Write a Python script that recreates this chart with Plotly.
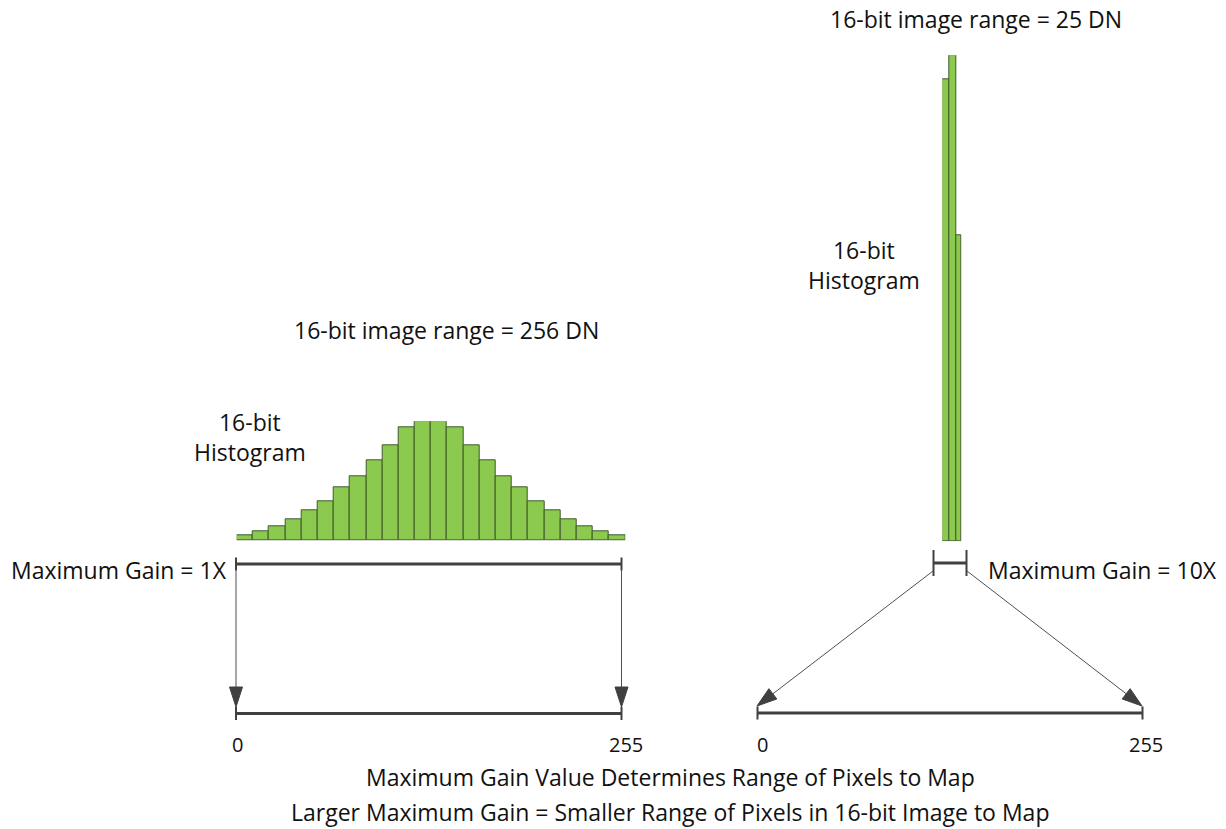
import plotly.graph_objects as go
import math

W, H = 1226, 829

# ---- data ----
left_bins = list(range(24))
left_counts = [5, 9, 14, 21, 30, 39, 53, 64, 80, 95, 113, 119,
               119, 113, 95, 80, 64, 53, 39, 30, 21, 14, 9, 5]
right_bins = [0, 1, 2]
right_counts = [462, 486, 306]
right_widths = [1, 1, 0.76]
tick_labels = ["0", "255"]

FONT = "Open Sans"
FS = 23
TXT = "#111111"
DARK = "#404040"
GREEN = "#8cc94f"
EDGE = "#3f5a2a"

fig = go.Figure()

# invisible trace to establish pixel-space canvas axes
fig.add_trace(go.Scatter(x=[0, W], y=[0, H], mode="markers",
                         marker=dict(opacity=0), hoverinfo="skip", showlegend=False))

# left histogram
fig.add_trace(go.Bar(x=left_bins, y=left_counts, width=1,
                     marker=dict(color=GREEN, line=dict(color=EDGE, width=1)),
                     xaxis="x2", yaxis="y2", showlegend=False, hoverinfo="skip"))
# right histogram
fig.add_trace(go.Bar(x=right_bins, y=right_counts, width=right_widths, offset=0,
                     marker=dict(color=GREEN, line=dict(color=EDGE, width=1)),
                     xaxis="x3", yaxis="y3", showlegend=False, hoverinfo="skip"))

def px_x(v):
    return v / W

def px_y(v):
    return 1 - v / H

shapes = []

def hline_bracket(x0, x1, y, half=6.5, w=3):
    shapes.append(dict(type="line", xref="x", yref="y", x0=x0, x1=x1, y0=y, y1=y,
                       line=dict(color=DARK, width=w)))
    for xx in (x0, x1):
        shapes.append(dict(type="line", xref="x", yref="y", x0=xx, x1=xx,
                           y0=y - half, y1=y + half, line=dict(color=DARK, width=2)))

def arrow(x0, y0, x1, y1, head_len=20, head_w=13):
    dx, dy = x1 - x0, y1 - y0
    L = math.hypot(dx, dy)
    ux, uy = dx / L, dy / L
    bx, by = x1 - ux * head_len, y1 - uy * head_len
    shapes.append(dict(type="line", xref="x", yref="y", x0=x0, y0=y0, x1=bx, y1=by,
                       line=dict(color="#505050", width=1)))
    px, py = -uy, ux
    p1 = (bx + px * head_w / 2, by + py * head_w / 2)
    p2 = (bx - px * head_w / 2, by - py * head_w / 2)
    path = f"M {x1},{y1} L {p1[0]},{p1[1]} L {p2[0]},{p2[1]} Z"
    shapes.append(dict(type="path", xref="x", yref="y", path=path,
                       fillcolor=DARK, line=dict(color=DARK, width=1)))

# brackets
hline_bracket(236, 621.5, 564)
hline_bracket(236, 621.5, 713.5)
hline_bracket(933.5, 966.5, 563, half=13)
hline_bracket(757.5, 1142.5, 713)

# arrows
arrow(236, 569, 236, 707)
arrow(621.5, 569, 621.5, 707)
arrow(933, 571, 757, 706)
arrow(967, 571, 1142, 706)

ann = []

def text(x, y, s, size=FS, xanchor="center"):
    ann.append(dict(x=x, y=y, xref="x", yref="y", text=s, showarrow=False,
                    xanchor=xanchor, yanchor="middle",
                    font=dict(family=FONT, size=size, color=TXT)))

text(976, 19, "16-bit image range = 25 DN")
text(864, 265, "16-bit<br>Histogram")
text(446, 330, "16-bit image range = 256 DN")
text(250, 437, "16-bit<br>Histogram")
text(229, 570, "Maximum Gain = 1X", xanchor="right")
text(986, 570, "Maximum Gain = 10X", xanchor="left")
text(237, 744, tick_labels[0], size=20)
text(626, 744, tick_labels[1], size=20)
text(762, 744, tick_labels[0], size=20)
text(1146, 744, tick_labels[1], size=20)
text(670, 777, "Maximum Gain Value Determines Range of Pixels to Map")
text(670, 812, "Larger Maximum Gain = Smaller Range of Pixels in 16-bit Image to Map")

axis_off = dict(visible=False, fixedrange=True, showgrid=False, zeroline=False)

fig.update_layout(
    width=W, height=H,
    margin=dict(l=0, r=0, t=0, b=0),
    paper_bgcolor="white", plot_bgcolor="rgba(0,0,0,0)",
    bargap=0, barmode="overlay",
    showlegend=False,
    xaxis=dict(range=[0, W], domain=[0, 1], **axis_off),
    yaxis=dict(range=[H, 0], domain=[0, 1], **axis_off),
    xaxis2=dict(range=[-0.5, 23.5], domain=[px_x(236.7), px_x(625.3)], anchor="y2", **axis_off),
    yaxis2=dict(range=[0, max(left_counts)], domain=[px_y(540.7), px_y(421.3)], anchor="x2", **axis_off),
    xaxis3=dict(range=[0, 2.76], domain=[px_x(942.3), px_x(961.7)], anchor="y3", **axis_off),
    yaxis3=dict(range=[0, max(right_counts)], domain=[px_y(541.3), px_y(55.3)], anchor="x3", **axis_off),
    shapes=shapes,
    annotations=ann,
)

fig.write_html("out.html", config=dict(displayModeBar=False),
               post_script="document.body.style.margin='0';document.body.style.overflow='hidden';")
